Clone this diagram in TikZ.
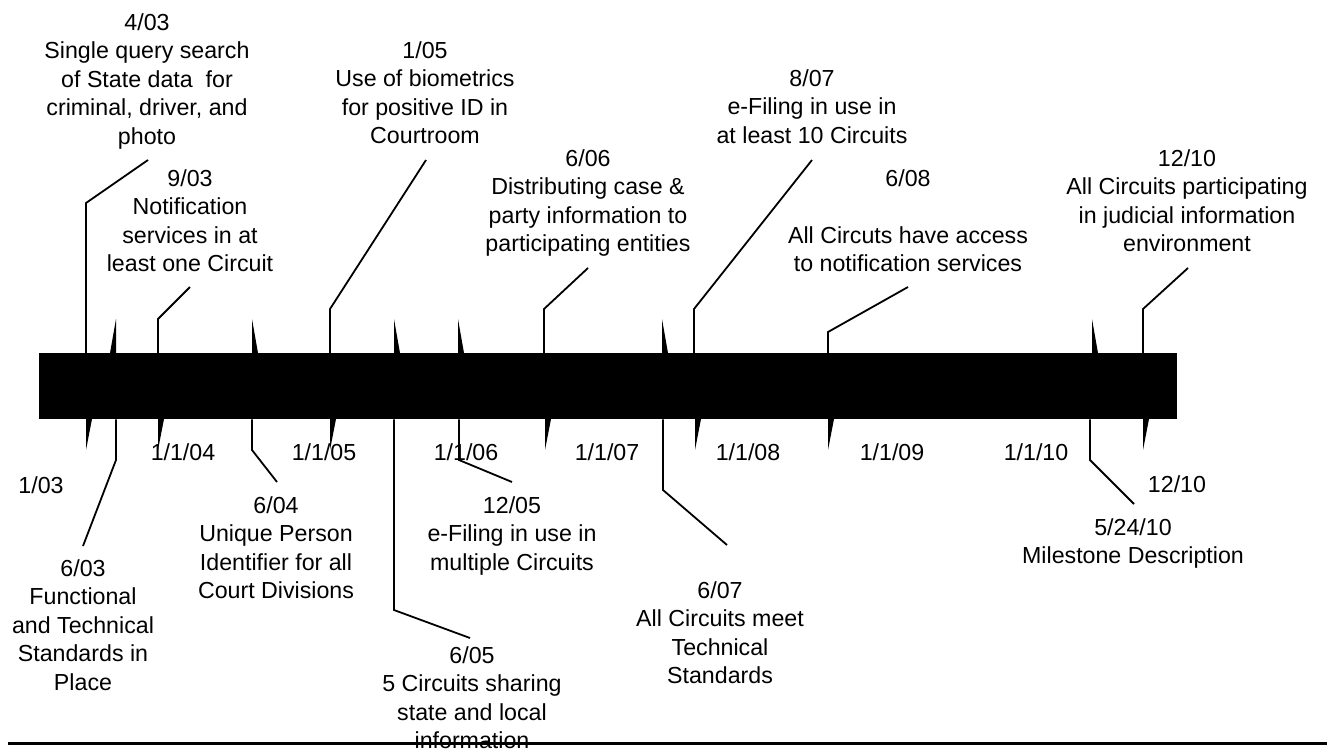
\documentclass[tikz,border=0pt]{standalone}
\usepackage{fontspec}
\setmainfont{Liberation Sans}
\newcommand{\spikeup}[1]{% x
    \fill (#1,319) -- (#1,353) -- (#1+6,353) -- cycle;
}
\newcommand{\spikedown}[1]{% x
    \fill (#1,419) -- (#1+6,419) -- (#1,450) -- cycle;
}

\begin{document}
\begin{tikzpicture}[
    x=1pt, y=-1pt,
    lbl/.style={font=\fontsize{23.2}{28.4}\selectfont, align=center,
        anchor=north, inner sep=0pt},
    leader/.style={line width=1.8pt},
    bar/.style={fill=black, inner sep=0pt, anchor=north west,
        minimum width=1138pt, minimum height=66pt}
]
\useasboundingbox (0,0) rectangle (1327,748);

% ===================================================================
% TIME BAR
% ===================================================================
\node[bar] (bar) at (39,353) {};

% Spikes above the bar
\fill (116,319) -- (110,353) -- (116,353) -- cycle;
\foreach \x in {252,394,458,662,1092} {
    \spikeup{\x}
}
% Spikes below the bar
\foreach \x in {86,158,330,545,695,828,1143} {
    \spikedown{\x}
}

% Year labels
\node[lbl] (d04) at (183,443.5) {1/1/04};
\node[lbl] (d05) at (324,443.5) {1/1/05};
\node[lbl] (d06) at (466,443.5) {1/1/06};
\node[lbl] (d07) at (607,443.5) {1/1/07};
\node[lbl] (d08) at (748,443.5) {1/1/08};
\node[lbl] (d09) at (892,443.5) {1/1/09};
\node[lbl] (d10) at (1036,443.5) {1/1/10};

% ===================================================================
% MILESTONES ABOVE
% ===================================================================
\node[lbl] (m0403) at (147,13.5) {4/03\\Single query search\\of State data\ \ for\\criminal, driver, and\\photo};
\node[lbl] (m0903) at (190,169.5) {9/03\\Notification\\services in at\\least one Circuit};
\node[lbl] (m0105) at (425,41.5) {1/05\\Use of biometrics\\for positive ID in\\Courtroom};
\node[lbl] (m0606) at (588,149.5) {6/06\\Distributing case \&\\party information to\\participating entities};
\node[lbl] (m0807) at (812,69.5) {8/07\\e-Filing in use in\\at least 10 Circuits};
\node[lbl] (m0608) at (908,169.5) {6/08\\\mbox{}\\All Circuts have access\\to notification services};
\node[lbl] (m1210t) at (1187,149.5) {12/10\\All Circuits participating\\in judicial information\\environment};

\coordinate (k0403) at (86,203);   \coordinate (e0403) at (148,160);
\coordinate (k0903) at (158,319);  \coordinate (e0903) at (190,287);
\coordinate (k0105) at (330,309);  \coordinate (e0105) at (426,160);
\coordinate (k0606) at (544,309);  \coordinate (e0606) at (588,268);
\coordinate (k0807) at (694,309);  \coordinate (e0807) at (812,160);
\coordinate (k0608) at (828,332);  \coordinate (e0608) at (908,287);
\coordinate (k1210) at (1143,309); \coordinate (e1210) at (1188,268);

\foreach \m in {0403,0903,0105,0606,0807,0608,1210} {
    \draw[leader] (bar.north -| k\m) -- (k\m) -- (e\m);
}

% ===================================================================
% MILESTONES BELOW
% ===================================================================
\node[lbl] (m0103) at (41,476.5) {1/03};
\node[lbl] (m0603) at (83,559.5) {6/03\\Functional\\and Technical\\Standards in\\Place};
\node[lbl] (m0604) at (276,496.5) {6/04\\Unique Person\\Identifier for all\\Court Divisions};
\node[lbl] (m0605) at (472,646.5) {6/05\\5 Circuits sharing\\state and local\\information};
\node[lbl] (m1205) at (512,496.5) {12/05\\e-Filing in use in\\multiple Circuits};
\node[lbl] (m0607) at (720,581.5) {6/07\\All Circuits meet\\Technical\\Standards};
\node[lbl] (m0524) at (1133,518.5) {5/24/10\\Milestone Description};
\node[lbl] (m1210b) at (1177,475.5) {12/10};

\coordinate (k0603) at (116,460);  \coordinate (e0603) at (83,546);
\coordinate (k0604) at (252,450);  \coordinate (e0604) at (277,482);
\coordinate (k0605) at (394,610);  \coordinate (e0605) at (470,638);
\coordinate (k1205) at (459,460);  \coordinate (e1205) at (512,482);
\coordinate (k0607) at (663,490);  \coordinate (e0607) at (727,545);
\coordinate (k0524) at (1090,460); \coordinate (e0524) at (1134,504);

\foreach \m in {0603,0604,0605,1205,0607,0524} {
    \draw[leader] (bar.south -| k\m) -- (k\m) -- (e\m);
}

% Bottom rule
\draw[line width=3pt] (8,743) -- (1327,743);

\end{tikzpicture}
\end{document}
